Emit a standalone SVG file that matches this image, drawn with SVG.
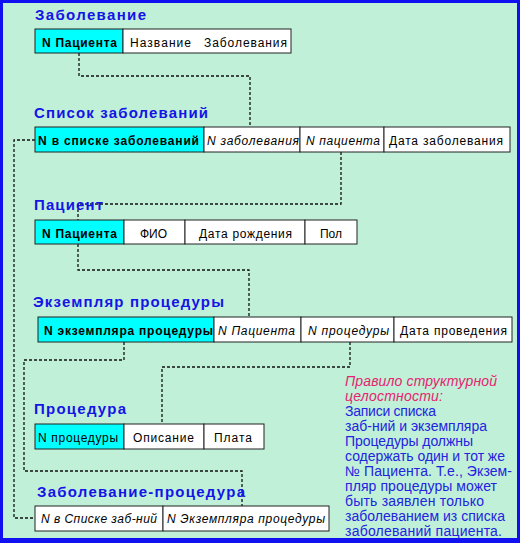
<svg xmlns="http://www.w3.org/2000/svg" width="520" height="543" viewBox="0 0 520 543">
<style>
.bg{fill:#c0f0d8}
.title{font-family:"Liberation Sans",Arial,sans-serif;font-size:15px;font-weight:bold;fill:#1414e6}
.key{fill:#00ffff;stroke:#222;stroke-width:1}
.cell{fill:#ffffff;stroke:#222;stroke-width:1}
.t{font-family:"Liberation Sans",Arial,sans-serif;font-size:12px;fill:#000}
.b{font-weight:bold}
.i{font-style:italic}
.conn{fill:none;stroke:#111;stroke-width:1.3;stroke-dasharray:3 2}
.note{font-family:"Liberation Sans",Arial,sans-serif;font-size:14px;fill:#2323e0}
.rule{fill:#e6246e;font-style:italic}
</style>
<rect x="0" y="0" width="520" height="543" fill="#1010f0"/>
<rect class="bg" x="3" y="3" width="514" height="535"/>

<g id="connectors">
<polyline class="conn" points="79,53 79,76 250,76 250,127"/>
<polyline class="conn" points="341,152 341,204 78,204 78,220"/>
<polyline class="conn" points="78,244 78,270 249,270 249,317"/>
<polyline class="conn" points="124,342 124,360 24,360 24,471 242,471 242,506"/>
<polyline class="conn" points="350,342 350,367 162,367 162,424"/>
<polyline class="conn" points="35,140 14,140 14,518 35,518"/>
</g>

<g id="zabolevanie">
<text class="title" x="35" y="20" textLength="111" lengthAdjust="spacing">Заболевание</text>
<rect class="key" x="35" y="29" width="88" height="24"/>
<rect class="cell" x="123" y="29" width="168" height="24"/>
<text class="t b" x="42" y="47" textLength="75" lengthAdjust="spacing">N Пациента</text>
<text class="t" x="130" y="47" textLength="61" lengthAdjust="spacing">Название</text>
<text class="t" x="204" y="47" textLength="83" lengthAdjust="spacing">Заболевания</text>
</g>

<g id="spisok">
<text class="title" x="34" y="118" textLength="174" lengthAdjust="spacing">Список заболеваний</text>
<rect class="key" x="35" y="127" width="169" height="25"/>
<rect class="cell" x="204" y="127" width="96" height="25"/>
<rect class="cell" x="300" y="127" width="84" height="25"/>
<rect class="cell" x="384" y="127" width="126" height="25"/>
<text class="t b" x="38" y="145" textLength="161" lengthAdjust="spacing">N в списке заболеваний</text>
<text class="t i" x="207" y="145" textLength="92" lengthAdjust="spacing">N заболевания</text>
<text class="t i" x="306" y="145" textLength="74" lengthAdjust="spacing">N пациента</text>
<text class="t" x="389" y="145" textLength="114" lengthAdjust="spacing">Дата заболевания</text>
</g>

<g id="pacient">
<text class="title" x="34" y="210" textLength="69" lengthAdjust="spacing">Пациент</text>
<rect class="key" x="35" y="220" width="89" height="24"/>
<rect class="cell" x="124" y="220" width="61" height="24"/>
<rect class="cell" x="185" y="220" width="120" height="24"/>
<rect class="cell" x="305" y="220" width="52" height="24"/>
<text class="t b" x="42" y="238" textLength="75" lengthAdjust="spacing">N Пациента</text>
<text class="t" x="140" y="238" textLength="27" lengthAdjust="spacing">ФИО</text>
<text class="t" x="199" y="238" textLength="93" lengthAdjust="spacing">Дата рождения</text>
<text class="t" x="320" y="238" textLength="22" lengthAdjust="spacing">Пол</text>
</g>

<g id="ekzemplyar">
<text class="title" x="33" y="307" textLength="191" lengthAdjust="spacing">Экземпляр процедуры</text>
<rect class="key" x="38" y="317" width="176" height="25"/>
<rect class="cell" x="214" y="317" width="87" height="25"/>
<rect class="cell" x="301" y="317" width="93" height="25"/>
<rect class="cell" x="394" y="317" width="118" height="25"/>
<text class="t b" x="44" y="335" textLength="169" lengthAdjust="spacing">N экземпляра процедуры</text>
<text class="t i" x="218" y="335" textLength="77" lengthAdjust="spacing">N Пациента</text>
<text class="t i" x="308" y="335" textLength="81" lengthAdjust="spacing">N процедуры</text>
<text class="t" x="400" y="335" textLength="107" lengthAdjust="spacing">Дата проведения</text>
</g>

<g id="procedura">
<text class="title" x="34" y="414" textLength="92" lengthAdjust="spacing">Процедура</text>
<rect class="key" x="35" y="424" width="89" height="25"/>
<rect class="cell" x="124" y="424" width="80" height="25"/>
<rect class="cell" x="204" y="424" width="60" height="25"/>
<text class="t" x="38" y="442" textLength="80" lengthAdjust="spacing">N процедуры</text>
<text class="t" x="133" y="442" textLength="61" lengthAdjust="spacing">Описание</text>
<text class="t" x="214" y="442" textLength="38" lengthAdjust="spacing">Плата</text>
</g>

<g id="zab-procedura">
<text class="title" x="37" y="497" textLength="208" lengthAdjust="spacing">Заболевание-процедура</text>
<rect class="cell" x="35" y="506" width="128" height="25"/>
<rect class="cell" x="163" y="506" width="166" height="25"/>
<text class="t i" x="41" y="523" textLength="116" lengthAdjust="spacing">N в Списке заб-ний</text>
<text class="t i" x="167" y="523" textLength="158" lengthAdjust="spacing">N Экземпляра процедуры</text>
</g>

<g id="note">
<text class="note rule" x="345" y="386" textLength="152" lengthAdjust="spacing">Правило структурной</text>
<text class="note rule" x="345" y="401" textLength="98" lengthAdjust="spacing">целостности:</text>
<text class="note" x="345" y="416" textLength="91" lengthAdjust="spacing">Записи списка</text>
<text class="note" x="345" y="431" textLength="142" lengthAdjust="spacing">заб-ний и экземпляра</text>
<text class="note" x="345" y="446" textLength="128" lengthAdjust="spacing">Процедуры должны</text>
<text class="note" x="345" y="461" textLength="160" lengthAdjust="spacing">содержать один и тот же</text>
<text class="note" x="345" y="476" textLength="167" lengthAdjust="spacing">№ Пациента. Т.е., Экзем-</text>
<text class="note" x="345" y="491" textLength="152" lengthAdjust="spacing">пляр процедуры может</text>
<text class="note" x="345" y="506" textLength="139" lengthAdjust="spacing">быть заявлен только</text>
<text class="note" x="345" y="521" textLength="160" lengthAdjust="spacing">заболеванием из списка</text>
<text class="note" x="345" y="536" textLength="157" lengthAdjust="spacing">заболеваний пациента.</text>
</g>
</svg>
